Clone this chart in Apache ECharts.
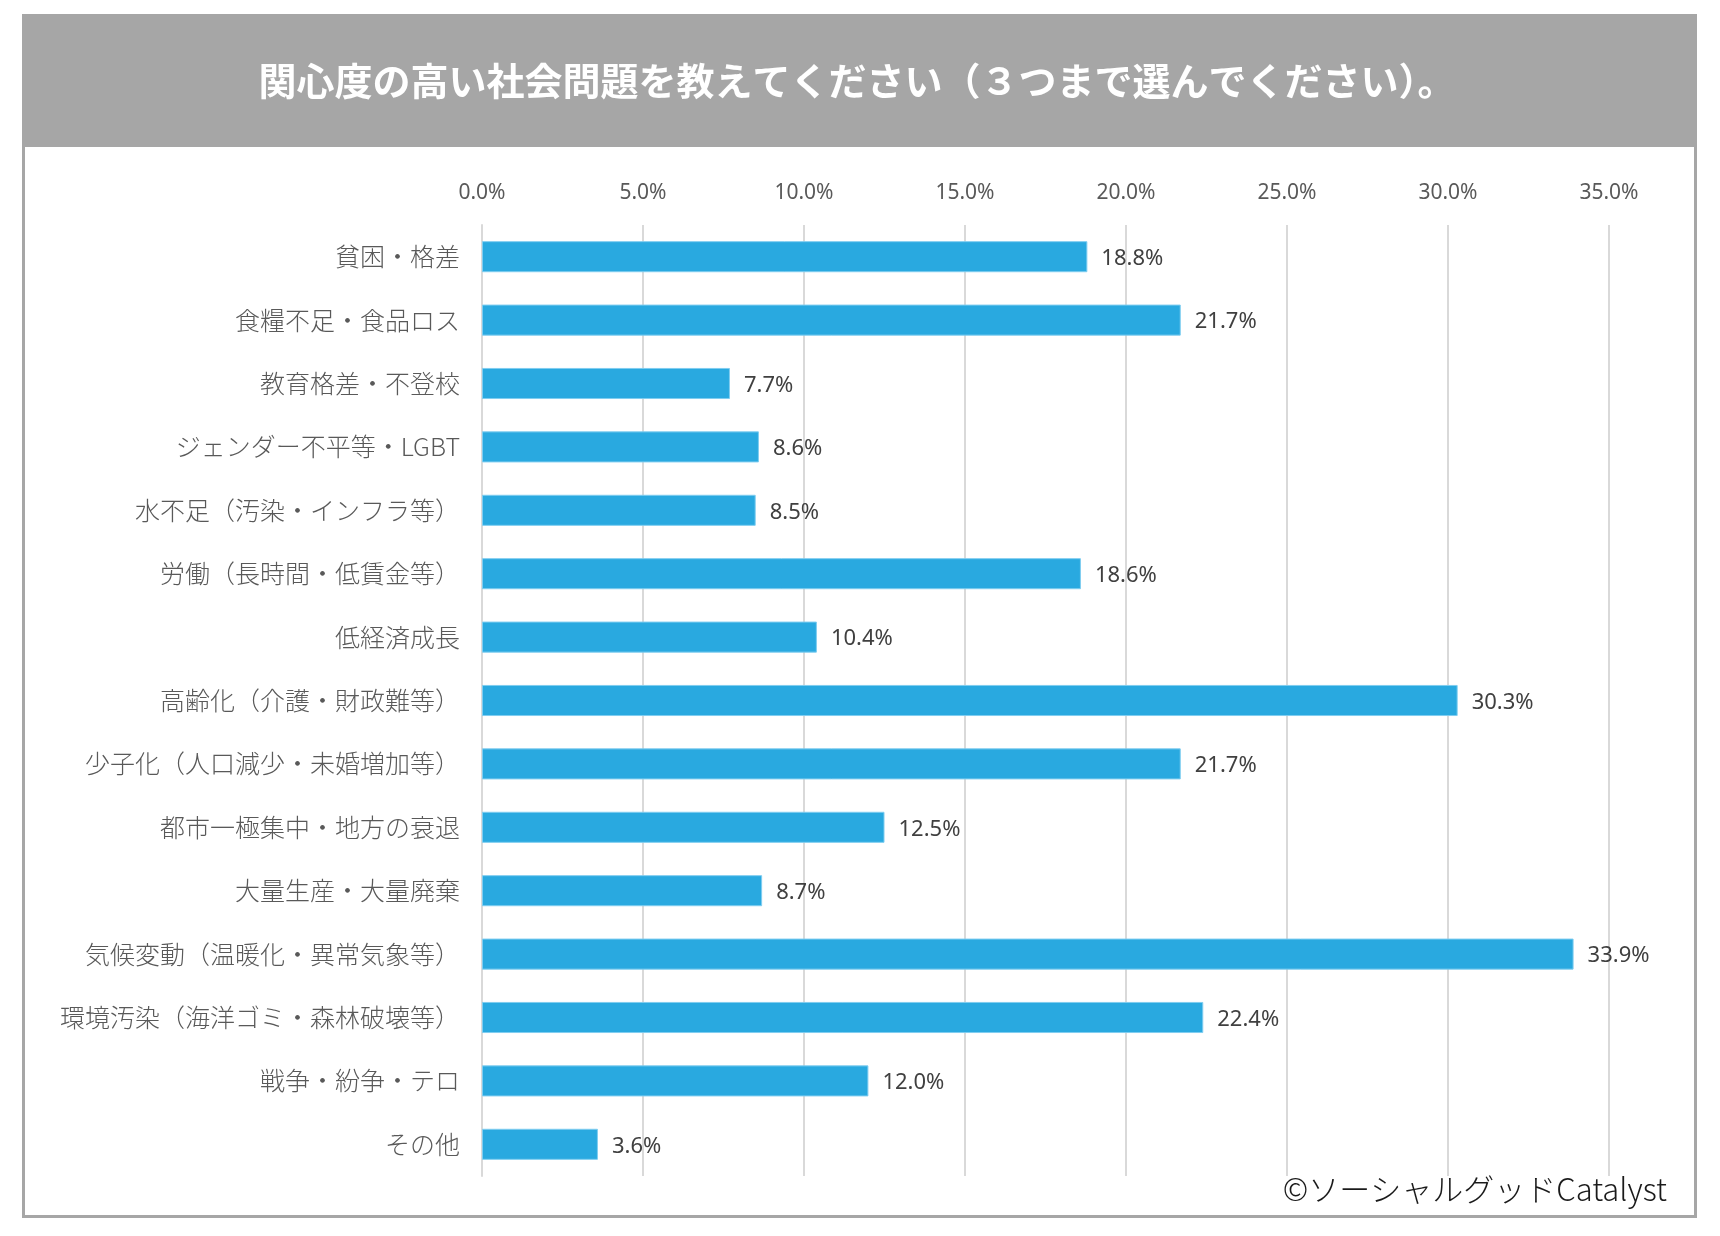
<!DOCTYPE html>
<html>
<head>
<meta charset="utf-8">
<script src="https://cdn.jsdelivr.net/npm/echarts@6/dist/echarts.min.js"></script>
<style>
html,body{margin:0;padding:0;background:#fff;}
#c{width:1720px;height:1236px;}
</style>
</head>
<body>
<div id="c"></div>
<script>
const titleText = '関心度の高い社会問題を教えてください（３つまで選んでください）。';
const categories = [
  '貧困・格差',
  '食糧不足・食品ロス',
  '教育格差・不登校',
  'ジェンダー不平等・LGBT',
  '水不足（汚染・インフラ等）',
  '労働（長時間・低賃金等）',
  '低経済成長',
  '高齢化（介護・財政難等）',
  '少子化（人口減少・未婚増加等）',
  '都市一極集中・地方の衰退',
  '大量生産・大量廃棄',
  '気候変動（温暖化・異常気象等）',
  '環境汚染（海洋ゴミ・森林破壊等）',
  '戦争・紛争・テロ',
  'その他'
];
const values = [18.8, 21.7, 7.7, 8.6, 8.5, 18.6, 10.4, 30.3, 21.7, 12.5, 8.7, 33.9, 22.4, 12.0, 3.6];
const axisMin = 0, axisMax = 35, axisStep = 5;
const creditText = '©ソーシャルグッドCatalyst';

const chart = echarts.init(document.getElementById('c'), null, {renderer: 'canvas'});
const jp = '"Noto Sans CJK JP", "Noto Sans", sans-serif';
const num = '"Noto Sans", "Open Sans", sans-serif';

chart.setOption({
  backgroundColor: '#ffffff',
  animation: false,
  graphic: [
    {type: 'rect', z: 0, shape: {x: 23.5, y: 15.5, width: 1672, height: 1201},
     style: {fill: '#ffffff', stroke: '#a6a6a6', lineWidth: 3}},
    {type: 'rect', z: 1, shape: {x: 22, y: 14, width: 1675, height: 133},
     style: {fill: '#a6a6a6'}},
    {type: 'text', z: 2, right: 53, top: 1174,
     style: {text: creditText, fill: '#1a1a1a', font: '300 31px ' + jp}}
  ],
  title: {
    text: titleText,
    left: 852, top: 57, textAlign: 'center',
    textStyle: {color: '#ffffff', fontSize: 38, fontWeight: 'bold', fontFamily: jp}
  },
  grid: {left: 482, right: 111, top: 225, height: 951, containLabel: false},
  xAxis: {
    type: 'value', position: 'top',
    min: axisMin, max: axisMax, interval: axisStep,
    axisLine: {show: false}, axisTick: {show: false},
    axisLabel: {color: '#595959', fontSize: 21, fontFamily: num, margin: 21,
      formatter: v => v.toFixed(1) + '%'},
    splitLine: {show: true, lineStyle: {color: '#d9d9d9', width: 2}}
  },
  yAxis: {
    type: 'category', inverse: true, data: categories,
    axisLine: {show: true, lineStyle: {color: '#d9d9d9', width: 2}},
    axisTick: {show: false},
    axisLabel: {color: '#595959', fontSize: 25, fontWeight: 300, fontFamily: jp, margin: 22,
      padding: [0, 0, 7, 0]}
  },
  series: [{
    type: 'bar', data: values, barWidth: '49%',
    itemStyle: {color: '#29a9e0', borderColor: '#7fcdf0', borderWidth: 1},
    label: {show: true, position: 'right', distance: 14, color: '#404040',
      fontSize: 22, fontFamily: num, offset: [0, 2],
      formatter: p => p.value.toFixed(1) + '%'}
  }]
});
</script>
</body>
</html>
